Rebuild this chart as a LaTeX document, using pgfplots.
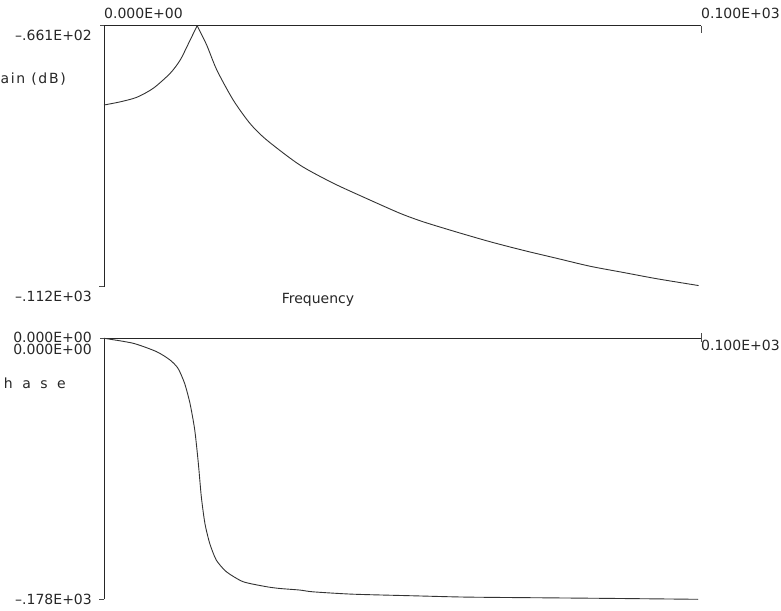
\documentclass[border=0pt]{standalone}
\usepackage{pgfplots}
\pgfplotsset{compat=1.18}
\usepackage{fontspec}
\setmainfont{DejaVu Sans}

\pgfplotstableread{
f g
0 -80.05
2.68 -79.5
5.48 -78.7
8.26 -77.1
11.06 -74.5
12.73 -72.2
14.12 -69.3
15.6 -66.1
17.2 -69.5
18.9 -73.9
21.66 -79.2
24.46 -83.3
27.25 -86.2
32.8 -90.6
38.4 -93.8
44.0 -96.5
49.6 -99.1
53.5 -100.6
59.1 -102.4
64.7 -104.1
70.2 -105.6
75.8 -107.0
81.4 -108.4
87.0 -109.5
92.6 -110.6
99.6 -111.8
}\gaintable

\pgfplotstableread{
f p
0 0
4.9 -3.4
8.8 -9.1
11.06 -14.8
12.4 -20.5
13.5 -30.7
14.4 -44.3
15.2 -62.5
15.8 -85.2
16.3 -108
16.9 -126.2
17.7 -139.8
18.8 -151.2
20.5 -159.2
23.3 -166.0
27.2 -169.4
29.4 -170.6
32.8 -171.7
35.0 -172.9
41.6 -174.5
51.7 -175.6
60.7 -176.5
74.1 -177.0
85.1 -177.4
99.5 -178
}\phasetable

\begin{document}
\begin{tikzpicture}[lbl/.style={inner sep=0pt, font=\fontsize{14}{16}\selectfont, text=black!85}]
\pgfplotsset{panel/.style={
  scale only axis, width=597pt, height=261pt, anchor=south west,
  xmin=0, xmax=100, clip=false,
  axis x line*=top, axis y line*=left,
  xtick=\empty, ytick=\empty,
  axis line style={line width=0.9pt, black!85},
}}
\begin{axis}[panel, at={(104pt,323.3pt)}, ymin=-112, ymax=-66.1]
\addplot[line width=0.9pt, black!80, smooth, tension=0.45, restrict x to domain=0:15.6] table[x=f, y=g] {\gaintable};
\addplot[line width=0.9pt, black!80, smooth, tension=0.45, restrict x to domain=15.6:100] table[x=f, y=g] {\gaintable};
\draw[line width=0.9pt, black!70] (axis cs:100,-66.1) -- ([yshift=-7pt]axis cs:100,-66.1);
\draw[line width=0.9pt, black!70] (axis cs:0,-66.1) -- ([xshift=-4pt]axis cs:0,-66.1);
\draw[line width=0.9pt, black!70] (axis cs:0,-112) -- ([xshift=-5pt]axis cs:0,-112);
\end{axis}
\begin{axis}[panel, at={(104pt,10.7pt)}, ymin=-178, ymax=0]
\addplot[line width=0.9pt, black!80, smooth, tension=0.4] table[x=f, y=p] {\phasetable};
\draw[line width=0.9pt, black!70] ([yshift=5pt]axis cs:100,0) -- ([yshift=-4pt]axis cs:100,0);
\draw[line width=0.9pt, black!70] (axis cs:0,0) -- ([xshift=-4pt]axis cs:0,0);
\draw[line width=0.9pt, black!70] (axis cs:0,-178) -- ([xshift=-5pt]axis cs:0,-178);
\end{axis}
\node[lbl, anchor=west] at (104pt,597pt) {0.000E+00};
\node[lbl, anchor=west] at (701pt,597pt) {0.100E+03};
\node[lbl, anchor=east] at (92pt,575pt) {--.661E+02};
\node[lbl, anchor=east] at (66pt,531pt) {\addfontfeature{LetterSpace=12}Gain (dB)};
\node[lbl, anchor=east] at (92pt,314pt) {--.112E+03};
\node[lbl] at (318pt,310pt) {Frequency};
\node[lbl, anchor=east] at (92pt,272.5pt) {0.000E+00};
\node[lbl, anchor=east] at (92pt,261pt) {0.000E+00};
\node[lbl, anchor=west] at (701pt,265pt) {0.100E+03};
\node[lbl, anchor=east] at (66pt,227pt) {P\hspace{9.5pt}h\hspace{9.5pt}a\hspace{9.5pt}s\hspace{9.5pt}e};
\node[lbl, anchor=east] at (92pt,11pt) {--.178E+03};
\pgfresetboundingbox
\useasboundingbox (0pt,0pt) rectangle (781pt,610pt);
\end{tikzpicture}
\end{document}
